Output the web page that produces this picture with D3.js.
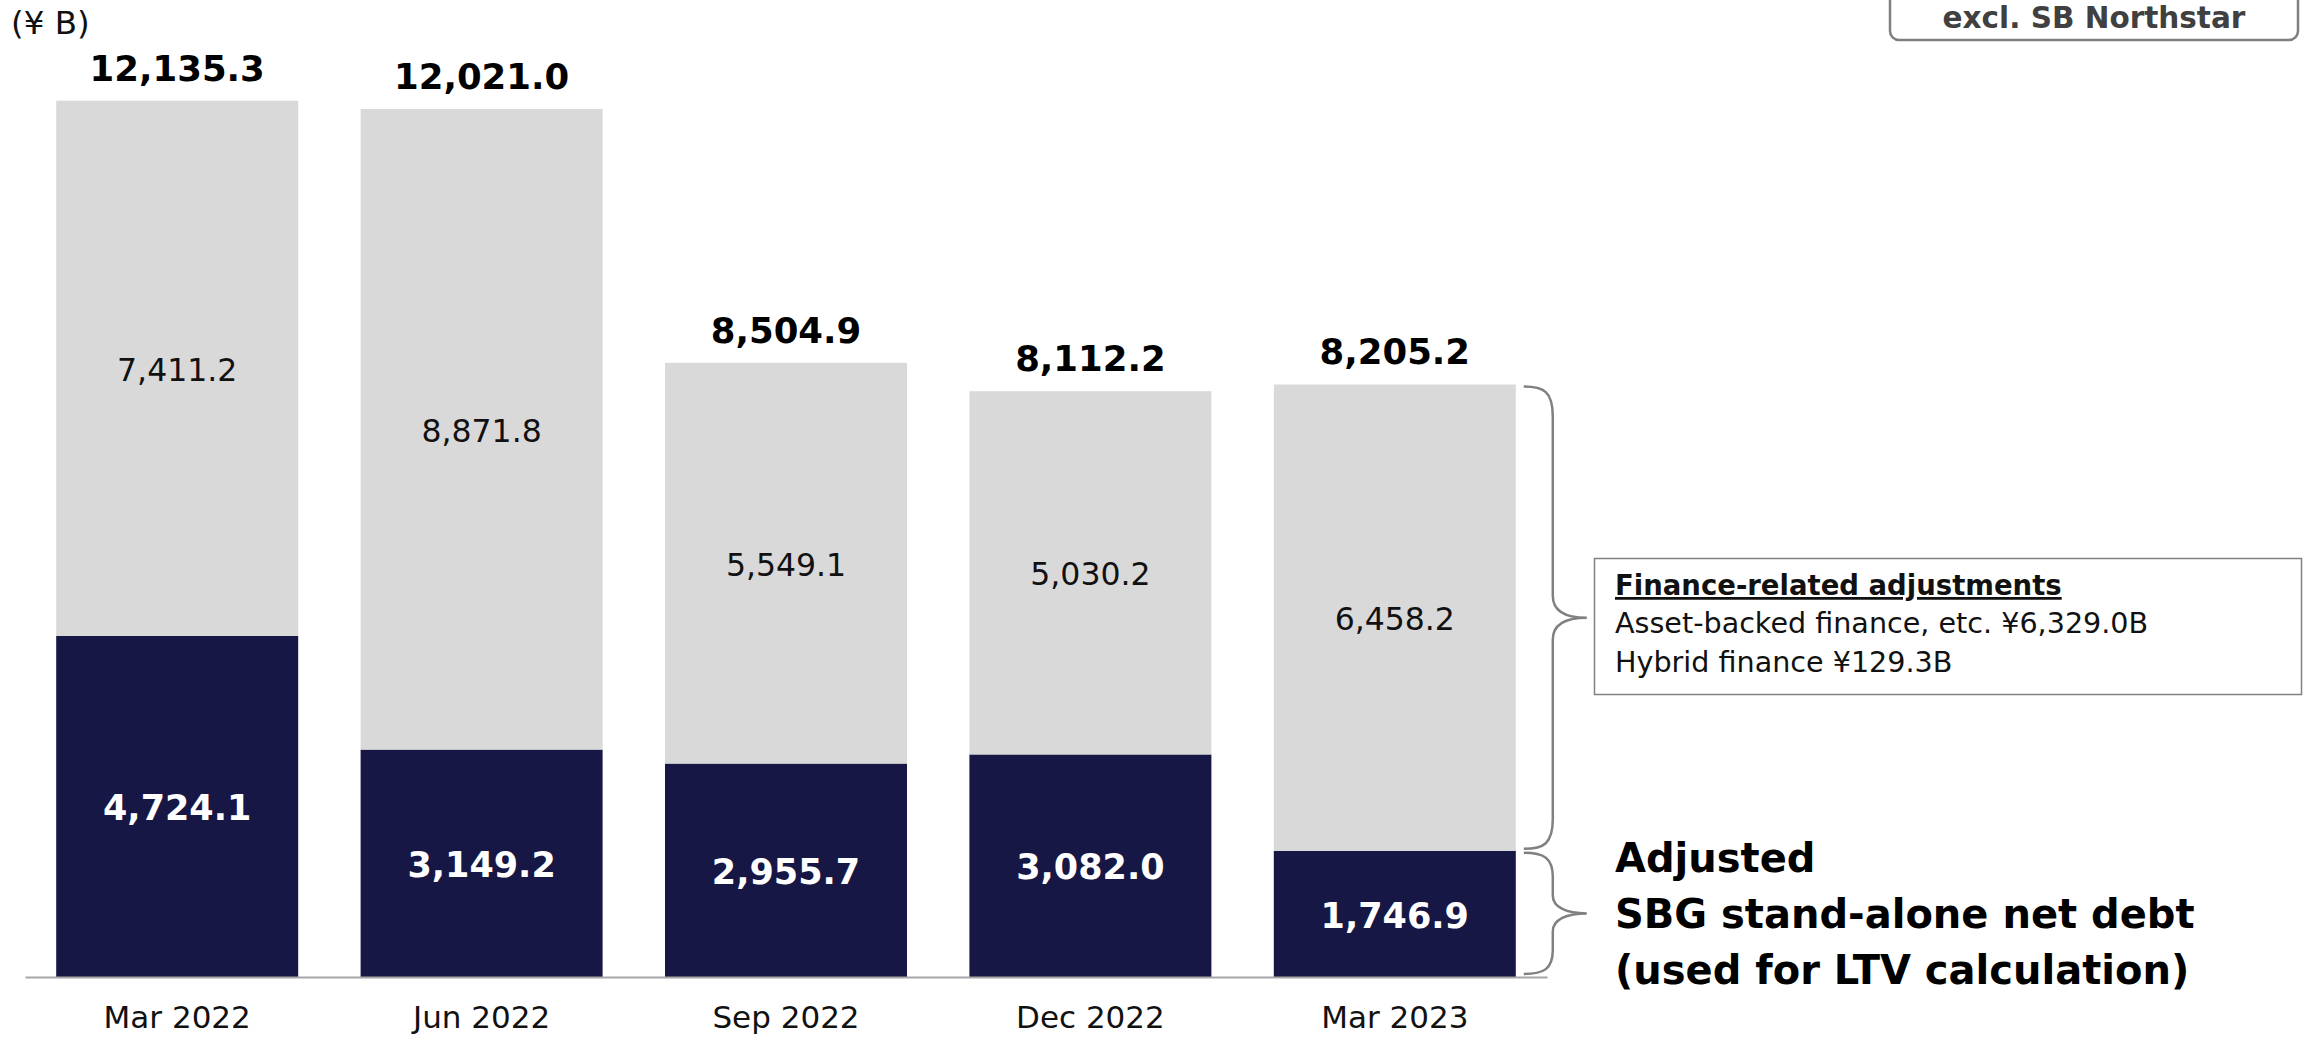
<!DOCTYPE html>
<html>
<head>
<meta charset="utf-8">
<script src="https://cdn.jsdelivr.net/npm/d3@7"></script>
<style>
  html, body { margin: 0; padding: 0; background: #fff; }
  svg { display: block; font-family: "DejaVu Sans", Verdana, sans-serif; }
</style>
</head>
<body>
<svg id="chart" width="2317" height="1037"></svg>
<script>
// ---- data ----
const categories = ["Mar 2022", "Jun 2022", "Sep 2022", "Dec 2022", "Mar 2023"];
const netDebt    = [4724.1, 3149.2, 2955.7, 3082.0, 1746.9];   // Adjusted SBG stand-alone net debt
const financeAdj = [7411.2, 8871.8, 5549.1, 5030.2, 6458.2];   // Finance-related adjustments
const totals     = [12135.3, 12021.0, 8504.9, 8112.2, 8205.2]; // labels on top
const unitLabel  = "(¥ B)";
const noteTitle  = "Finance-related adjustments";
const noteLines  = ["Asset-backed finance, etc. ¥6,329.0B", "Hybrid finance ¥129.3B"];
const sideLabel  = ["Adjusted", "SBG stand-alone net debt", "(used for LTV calculation)"];
const badge      = "excl. SB Northstar";

const fmt = d3.format(",.1f");
const svg = d3.select("#chart");

const x = d3.scaleBand().domain(categories).range([25, 1547])
  .paddingInner(0.205).paddingOuter(0.1025);
const y = d3.scaleLinear().domain([0, 13000]).range([977, 977 - 13000 * (876.3 / 12135.3)]);

const rows = categories.map((c, i) => ({ cat: c, debt: netDebt[i], adj: financeAdj[i] }));
const stack = d3.stack().keys(["debt", "adj"])(rows);
const colors = { debt: "#171745", adj: "#d9d9d9" };

// bars
const layers = svg.append("g").selectAll("g").data(stack).join("g")
  .attr("fill", d => colors[d.key]);
layers.selectAll("rect").data(d => d).join("rect")
  .attr("x", d => x(d.data.cat))
  .attr("width", x.bandwidth())
  .attr("y", d => y(d[1]))
  .attr("height", d => y(d[0]) - y(d[1]));

// segment labels
stack.forEach(layer => {
  const isDebt = layer.key === "debt";
  const fs = isDebt ? 35 : 31.5;
  svg.append("g").selectAll("text").data(layer).join("text")
    .attr("x", d => x(d.data.cat) + x.bandwidth() / 2)
    .attr("y", d => (y(d[0]) + y(d[1])) / 2 + fs * 0.36 + 1)
    .attr("text-anchor", "middle")
    .attr("font-size", fs)
    .attr("font-weight", isDebt ? "bold" : "normal")
    .attr("fill", isDebt ? "#ffffff" : "#111111")
    .text(d => fmt(d[1] - d[0]));
});

// totals
svg.append("g").selectAll("text").data(categories).join("text")
  .attr("x", c => x(c) + x.bandwidth() / 2)
  .attr("y", (c, i) => y(totals[i]) - 20)
  .attr("text-anchor", "middle")
  .attr("font-size", 35.5)
  .attr("font-weight", "bold")
  .attr("fill", "#000")
  .text((c, i) => fmt(totals[i]));

// axis
const ax = svg.append("g").attr("transform", `translate(0,${y(0)})`)
  .call(d3.axisBottom(x).tickSize(0).tickSizeOuter(0).tickPadding(29));
ax.select(".domain").attr("stroke", "#a6a6a6").attr("stroke-width", 2);
ax.selectAll("text").attr("font-size", 31).attr("fill", "#111")
  .attr("font-family", "DejaVu Sans, sans-serif");

// unit label
svg.append("text").attr("x", 11).attr("y", 34).attr("font-size", 32.5)
  .attr("fill", "#111").text(unitLabel);

// braces
const last = categories[categories.length - 1];
const bx0 = x(last) + x.bandwidth() + 8, bx1 = bx0 + 29, bx2 = bx0 + 63;
function brace(yt, yb, r1, r2) {
  const ym = (yt + yb) / 2;
  return `M${bx0},${yt} C${bx0 + 20},${yt} ${bx1},${yt + 5} ${bx1},${yt + r1}` +
         ` L${bx1},${ym - r2} C${bx1},${ym - 6} ${bx1 + 14},${ym} ${bx2},${ym}` +
         ` C${bx1 + 14},${ym} ${bx1},${ym + 6} ${bx1},${ym + r2}` +
         ` L${bx1},${yb - r1} C${bx1},${yb - 5} ${bx0 + 20},${yb} ${bx0},${yb}`;
}
const iL = categories.length - 1;
svg.append("path").attr("d", brace(y(totals[iL]) + 2, y(netDebt[iL]) - 2, 30, 22))
  .attr("fill", "none").attr("stroke", "#808080").attr("stroke-width", 2.5);
svg.append("path").attr("d", brace(y(netDebt[iL]) + 2, y(0) - 3, 24, 18))
  .attr("fill", "none").attr("stroke", "#808080").attr("stroke-width", 2.5);

// note box
svg.append("rect").attr("x", 1594.5).attr("y", 558.5).attr("width", 707).attr("height", 136)
  .attr("fill", "#fff").attr("stroke", "#808080").attr("stroke-width", 1.5);
svg.append("text").attr("x", 1615).attr("y", 595).attr("font-size", 27.5)
  .attr("font-weight", "bold").attr("fill", "#111")
  .attr("text-decoration", "underline").text(noteTitle);
noteLines.forEach((t, i) => {
  svg.append("text").attr("x", 1615).attr("y", 633 + i * 39).attr("font-size", 28.6)
    .attr("fill", "#111").text(t);
});

// side label
sideLabel.forEach((t, i) => {
  svg.append("text").attr("x", 1615).attr("y", 872 + i * 56).attr("font-size", 40)
    .attr("font-weight", "bold").attr("fill", "#000").text(t);
});

// badge
svg.append("rect").attr("x", 1890).attr("y", -20).attr("width", 408).attr("height", 60)
  .attr("rx", 9).attr("fill", "#fff").attr("stroke", "#7f7f7f").attr("stroke-width", 2.5);
svg.append("text").attr("x", 2094).attr("y", 28).attr("text-anchor", "middle")
  .attr("font-size", 29.5).attr("font-weight", "bold").attr("fill", "#404040").text(badge);
</script>
</body>
</html>
